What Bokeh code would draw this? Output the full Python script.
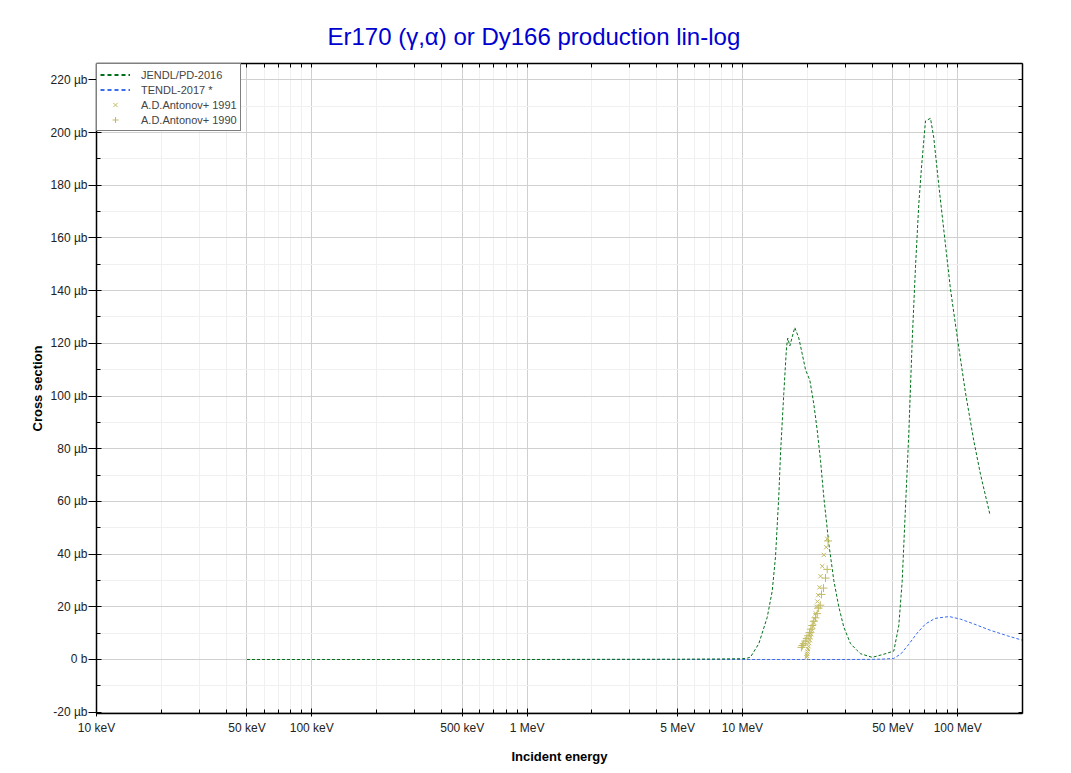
from bokeh.plotting import figure
from bokeh.models import FixedTicker, LogAxis, LinearAxis, Legend, LegendItem, Range1d, Title
from bokeh.embed import file_html
from bokeh.resources import INLINE

# ---- data (energies in MeV, cross sections in microbarn) ----
jendl_e = [0.05, 0.1, 0.5, 1.0, 2.0, 5.0, 8.0, 10.0, 10.53, 10.9, 11.92, 13.04, 13.76, 14.25, 14.76,
           15.03, 15.57, 16.03, 16.25, 16.61, 17.51, 18.28, 18.96, 19.64, 20.57, 21.46, 22.26,
           23.06, 23.89, 25.2, 26.58, 28.04, 29.58, 31.78, 34.14, 35.37, 40.09, 45.37, 50.5,
           53.25, 55.23, 57.21, 59.28, 61.47, 63.68, 65.97, 67.91, 70.87, 74.77, 77.45, 81.7,
           86.2, 92.6, 100.1, 108.7, 118.8, 127.6, 141.0]
jendl_xs = [0.0, 0.0, 0.0, 0.0, 0.05, 0.1, 0.2, 0.3, 0.5, 0.9, 6.0, 16.0, 26.0, 39.0, 62.0,
            78.0, 101.0, 118.5, 122.0, 119.0, 126.0, 122.0, 116.0, 110.0, 106.0, 97.0, 87.0,
            75.5, 61.6, 44.0, 30.0, 20.0, 12.3, 6.0, 3.4, 2.2, 0.8, 2.0, 3.2,
            12.8, 29.6, 57.7, 85.8, 120.9, 149.0, 172.8, 186.9, 204.4, 205.4, 198.0, 180.0,
            163.0, 140.5, 120.9, 101.2, 83.0, 70.3, 55.2]

tendl_e = [1.0, 2.0, 5.0, 10.0, 20.0, 30.0, 40.0, 45.0, 50.5, 54.6, 59.3, 64.8, 70.9, 78.5,
           91.2, 103.2, 118.8, 141.6, 170.0, 200.0]
tendl_xs = [0.0, 0.0, 0.0, 0.0, 0.0, 0.0, 0.05, 0.15, 0.4, 2.2, 5.8, 10.0, 13.5, 15.6,
            16.3, 15.3, 13.5, 11.1, 9.0, 7.3]

ant1991_e = [19.85, 19.95, 20.0, 20.05, 20.15, 20.3, 20.45, 20.6, 20.75, 20.9, 21.1, 21.3,
             21.5, 21.7, 21.9, 22.1, 22.3, 22.5, 22.8, 23.06, 23.49, 23.89, 24.5, 24.77]
ant1991_xs = [0.8, 1.4, 2.2, 3.0, 4.0, 5.0, 6.2, 7.3, 8.5, 9.6, 11.0, 12.5,
              14.0, 15.5, 17.5, 20.0, 22.0, 24.4, 27.4, 31.6, 35.4, 39.7, 42.6, 45.8]

ant1990_e = [18.8, 19.0, 19.28, 19.6, 19.9, 20.2, 20.5, 20.8, 21.1, 21.46, 21.85, 22.26,
             22.6, 23.0, 23.31, 23.8, 24.32, 24.77, 25.0]
ant1990_xs = [4.6, 5.3, 6.0, 7.0, 8.0, 9.0, 10.2, 11.5, 12.9, 14.5, 15.8, 17.4,
              19.5, 20.6, 24.7, 27.1, 30.9, 34.2, 45.0]

x_major = [1e4, 5e4, 1e5, 5e5, 1e6, 5e6, 1e7, 5e7, 1e8]
x_labels = ["10 keV", "50 keV", "100 keV", "500 keV", "1 MeV", "5 MeV", "10 MeV", "50 MeV", "100 MeV"]
y_major = [-20, 0, 20, 40, 60, 80, 100, 120, 140, 160, 180, 200, 220]
y_labels = ["-20 µb", "0 b", "20 µb", "40 µb", "60 µb", "80 µb", "100 µb", "120 µb",
            "140 µb", "160 µb", "180 µb", "200 µb", "220 µb"]

title_text = "Er170 (γ,α) or Dy166 production lin-log"

# ---- derived ----
MeV = 1e6
x_minor = []
for dec in [1e4, 1e5, 1e6, 1e7, 1e8]:
    for m in range(2, 10):
        v = dec * m
        if v <= 2e8 and v not in x_major:
            x_minor.append(v)
y_minor = [v for v in range(-20, 230, 10) if v not in y_major]

FONT = "Liberation Sans"
NAN = float("nan")

p = figure(width=1048, height=770, x_axis_type="log",
           x_range=Range1d(1e4, 2e8), y_range=Range1d(-20.5, 226.2),
           output_backend="svg", toolbar_location=None,
           min_border_left=96, min_border_right=26, min_border_top=63, min_border_bottom=57)
p.title = Title(text=title_text, text_color="#0000d0", text_font=FONT, text_font_size="24px",
                text_font_style="normal", align="left", offset=231, standoff=28)
p.outline_line_color = None
p.background_fill_color = "white"
p.border_fill_color = "white"

xt = FixedTicker(ticks=x_major, minor_ticks=x_minor)
yt = FixedTicker(ticks=y_major, minor_ticks=y_minor)

xa = p.xaxis[0]
xa.ticker = xt
xa.major_label_overrides = {int(v): s for v, s in zip(x_major, x_labels)}
ya = p.yaxis[0]
ya.ticker = yt
ya.major_label_overrides = {v: s for v, s in zip(y_major, y_labels)}

for ax in (xa, ya):
    ax.axis_line_color = "black"
    ax.axis_line_width = 1.5
    ax.major_tick_line_color = "black"
    ax.minor_tick_line_color = "black"
    ax.major_label_text_font = FONT
    ax.major_label_text_font_size = "12px"
    ax.major_label_text_color = "#222222"
    ax.axis_label_text_font = FONT
    ax.axis_label_text_font_size = "13px"
    ax.axis_label_text_font_style = "bold"
    ax.axis_label_text_color = "black"

xa.axis_label = "Incident energy"
xa.major_tick_in = 5
xa.major_tick_out = 3
xa.minor_tick_in = 4
xa.minor_tick_out = 0
xa.major_label_standoff = 4
xa.axis_label_standoff = 11

ya.axis_label = "Cross section"
ya.major_tick_in = 5
ya.major_tick_out = 8
ya.minor_tick_in = 4
ya.minor_tick_out = 0
ya.major_label_standoff = 1
ya.axis_label_standoff = 3

# top and right axes: tick marks only (no labels)
top = LogAxis(ticker=FixedTicker(ticks=[], minor_ticks=x_major + x_minor))
right = LinearAxis(ticker=FixedTicker(ticks=[], minor_ticks=y_major + y_minor))
for ax in (top, right):
    ax.axis_line_color = "black"
    ax.axis_line_width = 1.5
    ax.minor_tick_line_color = "black"
    ax.minor_tick_in = 4
    ax.minor_tick_out = 0
    ax.major_tick_in = 0
    ax.major_tick_out = 0
p.add_layout(top, "above")
p.add_layout(right, "right")

# grids
p.xgrid.ticker = xt
p.ygrid.ticker = yt
for g in (p.xgrid[0], p.ygrid[0]):
    g.grid_line_color = "#d0d0d0"
    g.grid_line_width = 1
    g.minor_grid_line_color = "#f0f0f0"
    g.minor_grid_line_width = 1

# data
je = [e * MeV for e in jendl_e]
te = [e * MeV for e in tendl_e]
a91 = [e * MeV for e in ant1991_e]
a90 = [e * MeV for e in ant1990_e]

GREEN = "#00701a"
BLUE = "#3a6cf0"
OLIVE = "#c2bb62"

p.line(te, tendl_xs, line_color=BLUE, line_width=1, line_dash="3 2")
p.line(je, jendl_xs, line_color=GREEN, line_width=1, line_dash="3 2")
p.scatter(a91, ant1991_xs, marker="x", size=6, line_color=OLIVE, line_width=1)
p.scatter(a90, ant1990_xs, marker="cross", size=8, line_color=OLIVE, line_width=1)

# legend proxies (thicker dashes as in the reference legend); never visible in the plot
lj = p.line([NAN, NAN], [NAN, NAN], line_color=GREEN, line_width=2, line_dash="4 3")
lt = p.line([NAN, NAN], [NAN, NAN], line_color=BLUE, line_width=2, line_dash="4 3")
lx = p.scatter([NAN], [NAN], marker="x", size=9, line_color=OLIVE, line_width=1)
lc = p.scatter([NAN], [NAN], marker="cross", size=11, line_color=OLIVE, line_width=1)

legend = Legend(items=[
    LegendItem(label="JENDL/PD-2016", renderers=[lj]),
    LegendItem(label="TENDL-2017 *", renderers=[lt]),
    LegendItem(label="A.D.Antonov+ 1991", renderers=[lx]),
    LegendItem(label="A.D.Antonov+ 1990", renderers=[lc]),
], location="top_left")
legend.label_text_font = FONT
legend.label_text_font_size = "11px"
legend.label_height = 15
legend.glyph_height = 15
legend.glyph_width = 30
legend.spacing = 0
legend.padding = 3
legend.margin = 0
legend.label_standoff = 11
legend.border_line_color = "black"
legend.border_line_width = 1
legend.background_fill_alpha = 1
p.add_layout(legend)

open("out.html", "w").write(file_html(p, INLINE))
